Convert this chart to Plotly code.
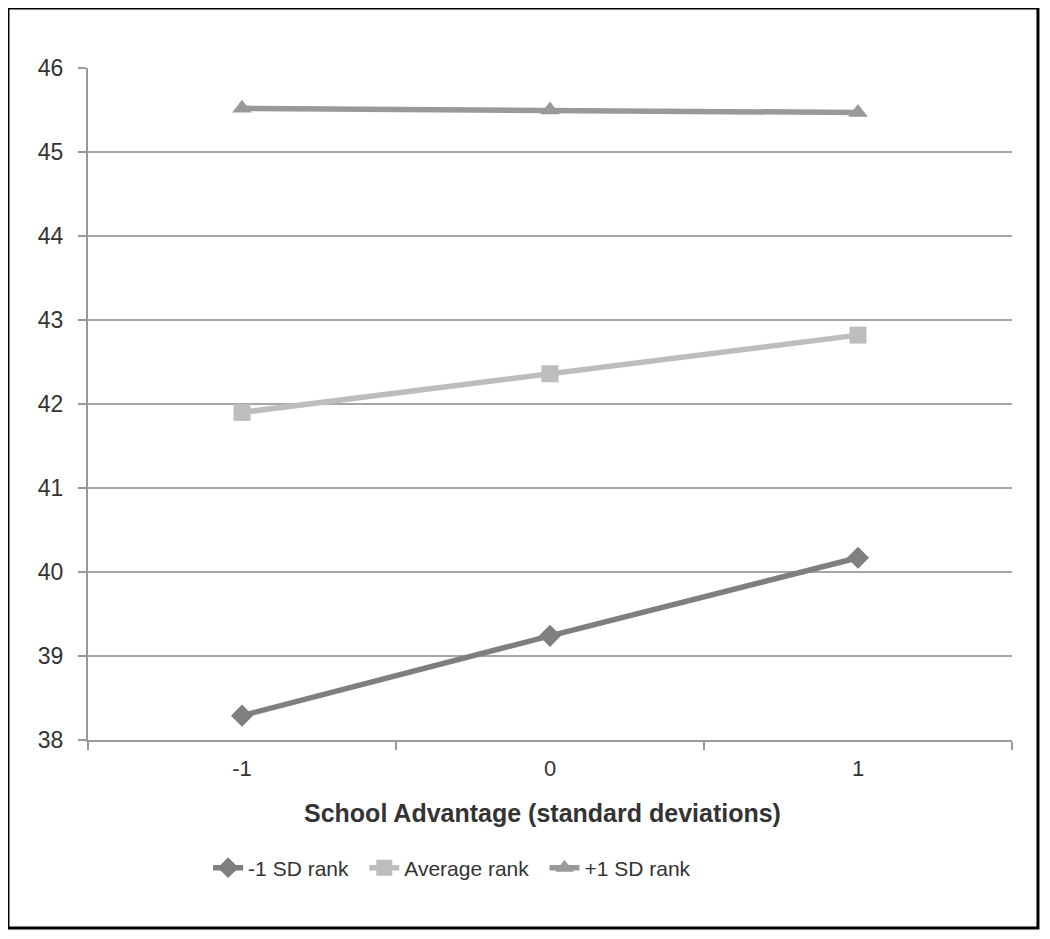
import plotly.graph_objects as go

# School advantage categories and predicted values per rank group
categories = ["-1", "0", "1"]
low_rank = [38.29, 39.24, 40.17]
avg_rank = [41.90, 42.36, 42.82]
high_rank = [45.52, 45.50, 45.47]

series = [
    ("-1 SD rank", low_rank, "#7f7f7f", "diamond", "legend"),
    ("Average rank", avg_rank, "#bdbdbd", "square", "legend2"),
    ("+1 SD rank", high_rank, "#999999", "triangle-up", "legend3"),
]

FONT = "Liberation Sans, Arial, sans-serif"

fig = go.Figure()
for name, vals, color, symbol, leg in series:
    fig.add_trace(go.Scatter(
        x=categories, y=vals, name=name, mode="lines+markers",
        line=dict(color=color, width=5.5),
        marker=dict(symbol=symbol, size=17, color=color),
        legend=leg,
    ))

# one legend per entry so each item can sit where it does in the original
def leg_at(x):
    return dict(orientation="h", x=x, xanchor="left", y=-0.1905, yanchor="middle",
                font=dict(size=21, color="#333333"), bgcolor="rgba(0,0,0,0)")

# page body has an 8px margin, so the figure is sized to fit inside it
fig.update_layout(
    width=1034, height=923,
    margin=dict(l=80, r=30, t=60, b=191),
    paper_bgcolor="white", plot_bgcolor="white",
    font=dict(family=FONT, size=20, color="#333333"),
    showlegend=True,
    legend=leg_at(0.130),
    legend2=leg_at(0.299),
    legend3=leg_at(0.494),
    xaxis=dict(
        type="category", range=[-0.5, 2.5], tickson="boundaries",
        ticks="outside", ticklen=8, tickcolor="#999999", tickwidth=2,
        showline=True, linecolor="#999999", linewidth=2, showgrid=False,
        ticklabelstandoff=8, tickfont=dict(size=22),
    ),
    yaxis=dict(
        range=[38, 46], dtick=1, ticks="outside", ticklen=8,
        tickcolor="#999999", tickwidth=2,
        showline=True, linecolor="#999999", linewidth=2,
        showgrid=True, gridcolor="#a6a6a6", gridwidth=2,
        ticklabelstandoff=10, tickfont=dict(size=23), zeroline=False,
    ),
    annotations=[dict(text="<b>School Advantage (standard deviations)</b>",
                      xref="paper", yref="paper", x=0.4924, y=-0.1086,
                      xanchor="center", yanchor="middle", showarrow=False,
                      font=dict(size=25, color="#333333"))],
    shapes=[dict(type="rect", xref="paper", yref="paper",
                 x0=-0.0866, x1=1.0281, y0=-0.2798, y1=1.0893,
                 line=dict(color="black", width=3), layer="below")],
)

fig.write_html("out.html")
